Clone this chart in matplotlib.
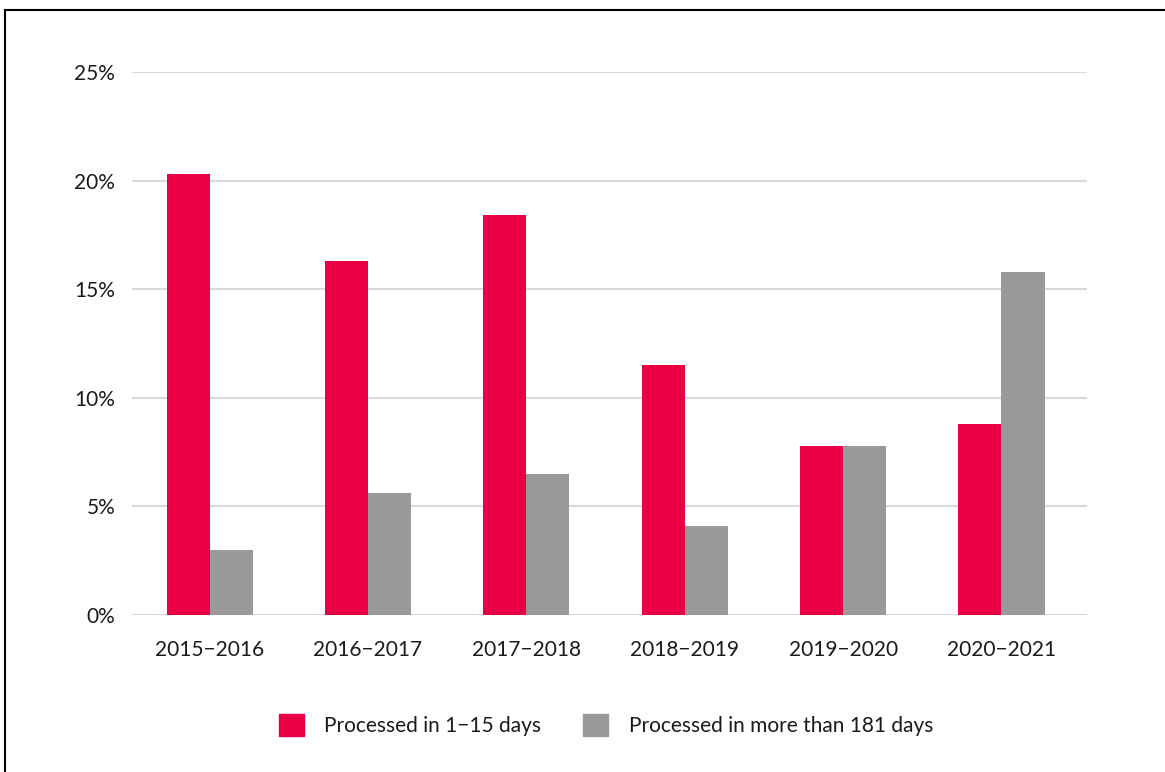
import matplotlib
matplotlib.use("Agg")
import matplotlib.pyplot as plt
from matplotlib.lines import Line2D
from matplotlib.patches import Patch
import numpy as np

categories = ["2015\u22122016", "2016\u22122017", "2017\u22122018", "2018\u22122019", "2019\u22122020", "2020\u22122021"]
fast = [20.3, 16.3, 18.4, 11.5, 7.8, 8.8]
slow = [3.0, 5.6, 6.5, 4.1, 7.8, 15.8]
series_names = ["Processed in 1\u221215 days", "Processed in more than 181 days"]
yticks = [0, 5, 10, 15, 20, 25]
ytick_labels = ["0%", "5%", "10%", "15%", "20%", "25%"]

RED = "#EB0045"
GRAY = "#999999"
plt.rcParams['font.family'] = ['Lato', 'DejaVu Sans']

fig = plt.figure(figsize=(11.65, 7.72), dpi=100)
ax = fig.add_axes([132/1165, 1-615/772, (1087-132)/1165, (615-72)/772])

x = np.arange(len(categories))
w = 0.272
ax.bar(x - w/2, fast, width=w, color=RED, zorder=3)
ax.bar(x + w/2, slow, width=w, color=GRAY, zorder=3)

ax.set_xlim(-0.49, len(categories) - 0.46)
ax.set_ylim(0, 25)
ax.set_yticks(yticks)
ax.set_yticklabels(ytick_labels)
ax.set_xticks(x)
ax.set_xticklabels(categories)
ax.grid(axis='y', color='#d9d9d9', linewidth=1.5, zorder=0)
ax.set_axisbelow(True)
for s in ax.spines.values():
    s.set_visible(False)
ax.tick_params(axis='both', length=0, labelsize=15, colors='#1a1a1a')
ax.tick_params(axis='y', pad=12)
ax.tick_params(axis='x', pad=18)

handles = [Patch(color=RED), Patch(color=GRAY)]
fig.legend(handles, series_names, loc='center', bbox_to_anchor=(606/1165, 1-725/772),
           ncol=2, frameon=False, fontsize=15, handlelength=1.2, handleheight=1.2,
           columnspacing=2.0, handletextpad=1.0, labelcolor='#1a1a1a')

fig.add_artist(Line2D([5/1165, 5/1165], [0, 1-10/772], transform=fig.transFigure, color='black', lw=1.5))
fig.add_artist(Line2D([5/1165, 1], [1-10/772, 1-10/772], transform=fig.transFigure, color='black', lw=1.5))

fig.savefig("out.png", dpi=100)
